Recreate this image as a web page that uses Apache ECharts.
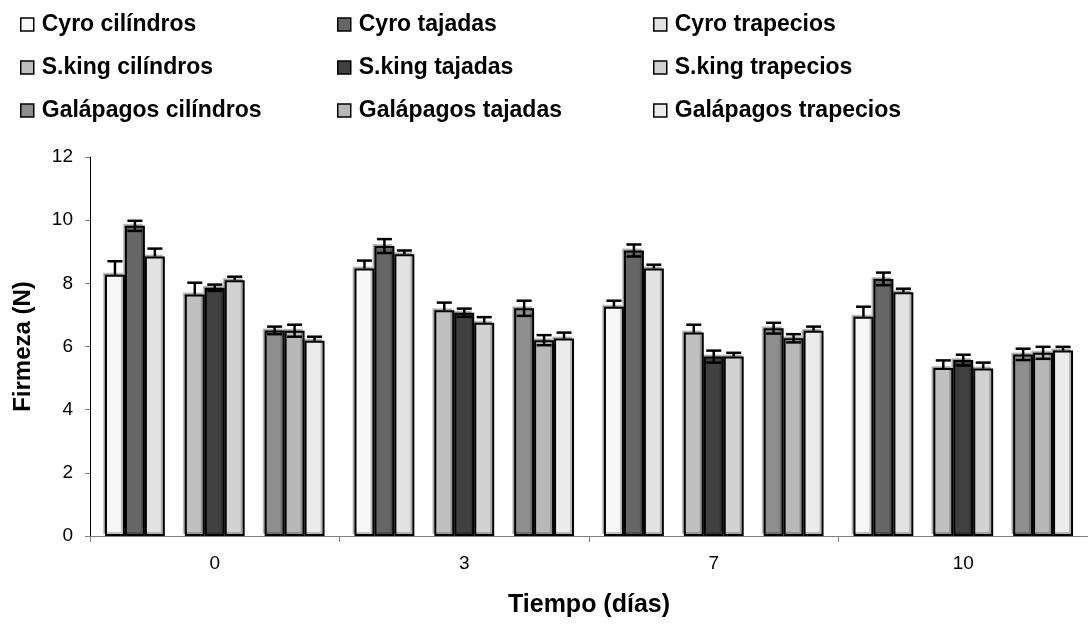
<!DOCTYPE html>
<html>
<head>
<meta charset="utf-8">
<script src="https://cdn.jsdelivr.net/npm/echarts@6/dist/echarts.min.js"></script>
<style>
html,body{margin:0;padding:0;background:#fff;}
#chart{width:1088px;height:625px;}
</style>
</head>
<body>
<div id="chart"></div>
<script>
const categories = ['0', '3', '7', '10'];
const seriesNames = [
  'Cyro cilíndros', 'Cyro tajadas', 'Cyro trapecios',
  'S.king cilíndros', 'S.king tajadas', 'S.king trapecios',
  'Galápagos cilíndros', 'Galápagos tajadas', 'Galápagos trapecios'
];
const cyroCilindros = [8.27, 8.47, 7.26, 6.94];
const cyroTajadas = [9.82, 9.18, 9.04, 8.14];
const cyroTrapecios = [8.85, 8.92, 8.47, 7.72];
const skingCilindros = [7.65, 7.15, 6.44, 5.32];
const skingTajadas = [7.86, 7.07, 5.68, 5.57];
const skingTrapecios = [8.10, 6.75, 5.68, 5.30];
const galCilindros = [6.51, 7.21, 6.58, 5.75];
const galTajadas = [6.50, 6.20, 6.26, 5.80];
const galTrapecios = [6.18, 6.25, 6.50, 5.87];

const errCyroCilindros = [0.43, 0.25, 0.19, 0.32];
const errCyroTajadas = [0.16, 0.22, 0.19, 0.20];
const errCyroTrapecios = [0.25, 0.12, 0.12, 0.11];
const errSkingCilindros = [0.37, 0.24, 0.25, 0.24];
const errSkingTajadas = [0.10, 0.13, 0.19, 0.17];
const errSkingTrapecios = [0.11, 0.18, 0.12, 0.19];
const errGalCilindros = [0.12, 0.24, 0.17, 0.18];
const errGalTajadas = [0.19, 0.16, 0.13, 0.19];
const errGalTrapecios = [0.13, 0.19, 0.13, 0.12];

const yTicks = { min: 0, max: 12, interval: 2 };

const values = [cyroCilindros, cyroTajadas, cyroTrapecios, skingCilindros, skingTajadas, skingTrapecios, galCilindros, galTajadas, galTrapecios];
const errors = [errCyroCilindros, errCyroTajadas, errCyroTrapecios, errSkingCilindros, errSkingTajadas, errSkingTrapecios, errGalCilindros, errGalTajadas, errGalTrapecios];

// styles
const fills = ['#f7f7f7', '#666666', '#e2e2e2', '#c0c0c0', '#404040', '#d2d2d2', '#8e8e8e', '#b8b8b8', '#ebebeb'];
const twoSided = [false, true, false, false, true, false, true, true, false];
const FONT = "'Liberation Sans', Arial, sans-serif";
const SLOTS = 11;
const CAT_GAP = 0.12;

const series = [];
const slotOf = [];
let slot = 0;
values.forEach((vals, i) => {
  series.push({
    name: seriesNames[i],
    type: 'bar',
    data: vals,
    barGap: '0%',
    barCategoryGap: (CAT_GAP * 100) + '%',
    itemStyle: {
      color: fills[i], borderColor: '#000', borderWidth: 2,
      shadowColor: 'rgba(0,0,0,0.22)', shadowOffsetX: -2, shadowOffsetY: -2, shadowBlur: 0
    },
    emphasis: { disabled: true },
    z: 2
  });
  slotOf.push(slot);
  slot++;
  if (i === 2 || i === 5) {
    series.push({ name: 'spacer' + i, type: 'bar', data: categories.map(() => null), barGap: '0%', barCategoryGap: (CAT_GAP * 100) + '%' });
    slot++;
  }
});

values.forEach((vals, i) => {
  const k = slotOf[i];
  const both = twoSided[i];
  series.push({
    type: 'custom',
    name: seriesNames[i] + ' err',
    z: 5,
    silent: true,
    data: vals.map((v, j) => [j, v, errors[i][j]]),
    renderItem: function (params, api) {
      const c = api.value(0), v = api.value(1), e = api.value(2);
      const catW = api.size([1, 0])[0];
      const barW = catW * (1 - CAT_GAP) / SLOTS;
      const center = api.coord([c, v]);
      const x = center[0] - catW * (1 - CAT_GAP) / 2 + (k + 0.5) * barW;
      const yTop = api.coord([c, v + e])[1];
      const yBot = both ? api.coord([c, v - e])[1] : center[1];
      const half = 7.5;
      const st = { stroke: '#000', lineWidth: 2.5 };
      const children = [
        { type: 'line', shape: { x1: x, y1: yTop, x2: x, y2: yBot }, style: st },
        { type: 'line', shape: { x1: x - half, y1: yTop, x2: x + half, y2: yTop }, style: st }
      ];
      if (both) children.push({ type: 'line', shape: { x1: x - half, y1: yBot, x2: x + half, y2: yBot }, style: st });
      return { type: 'group', children: children };
    }
  });
});

function legendCol(names, left) {
  return {
    orient: 'vertical', left: left, top: 13, itemGap: 20, padding: 0,
    itemWidth: 13, itemHeight: 13, icon: 'rect',
    data: names,
    itemStyle: { borderColor: '#000', borderWidth: 1.5, shadowBlur: 0, shadowOffsetX: 0, shadowOffsetY: 0, shadowColor: 'transparent' },
    textStyle: { fontFamily: FONT, fontWeight: 'bold', fontSize: 23, color: '#000', padding: [0, 0, 0, 3] },
    selectedMode: false
  };
}

const chart = echarts.init(document.getElementById('chart'), null, { renderer: 'canvas' });
chart.setOption({
  animation: false,
  backgroundColor: '#fff',
  legend: [
    legendCol([seriesNames[0], seriesNames[3], seriesNames[6]], 20),
    legendCol([seriesNames[1], seriesNames[4], seriesNames[7]], 337),
    legendCol([seriesNames[2], seriesNames[5], seriesNames[8]], 653)
  ],
  grid: { left: 90, right: -9, top: 157, bottom: 89, containLabel: false },
  xAxis: {
    type: 'category', data: categories,
    axisLine: { lineStyle: { color: '#808080', width: 1 } },
    axisTick: { show: true, length: 6, lineStyle: { color: '#808080' } },
    axisLabel: { fontFamily: FONT, fontSize: 19, color: '#000', margin: 18 },
    name: 'Tiempo (días)', nameLocation: 'middle', nameGap: 57,
    nameTextStyle: { fontFamily: FONT, fontWeight: 'bold', fontSize: 25, color: '#000' }
  },
  yAxis: {
    type: 'value', min: yTicks.min, max: yTicks.max, interval: yTicks.interval,
    axisLine: { show: true, lineStyle: { color: '#000', width: 1 } },
    axisTick: { show: true, length: 5, lineStyle: { color: '#808080' } },
    splitLine: { show: false },
    axisLabel: { fontFamily: FONT, fontSize: 19, color: '#000', margin: 17 },
    name: 'Firmeza (N)', nameLocation: 'middle', nameGap: 55, nameRotate: 90,
    nameTextStyle: { fontFamily: FONT, fontWeight: 'bold', fontSize: 24, color: '#000' }
  },
  series: series
});
</script>
</body>
</html>
